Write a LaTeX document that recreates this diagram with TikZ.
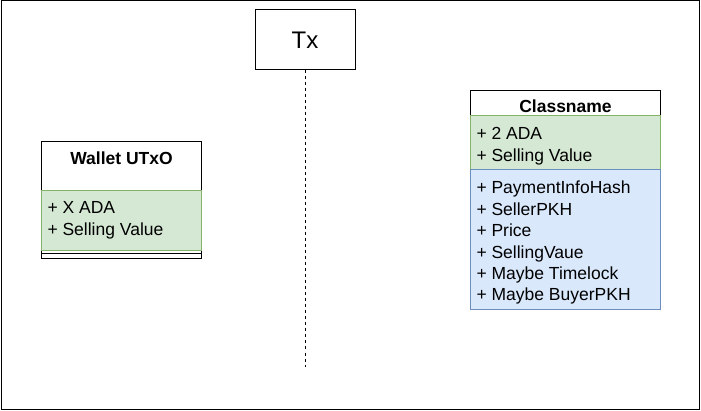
\documentclass[tikz,border=0pt]{standalone}
\usepackage{fontspec}
\setmainfont{Liberation Sans}
\definecolor{greenfill}{HTML}{D5E8D4}
\definecolor{greenline}{HTML}{82B366}
\definecolor{bluefill}{HTML}{DAE8FC}
\definecolor{blueline}{HTML}{6C8EBF}
\tikzset{
  item/.style={anchor=base west, inner sep=0pt},
  title/.style={anchor=base, inner sep=0pt, font=\fontsize{17.5}{21}\selectfont\bfseries},
}
\begin{document}
\begin{tikzpicture}[x=1pt, y=-1pt, font=\fontsize{17.5}{21}\selectfont, line width=1pt]

\useasboundingbox (0,0) rectangle (701,411);
\draw (1,1) rectangle (699.5,409.5);

% Tx lifeline
\node[draw, minimum width=100pt, minimum height=60pt, font=\fontsize{24}{28}\selectfont] (tx) at (305,40) {Tx};
\coordinate (txend) at (305,367);
\draw[dashed, line width=0.8pt] (tx.south) -- (txend);

% Wallet UTxO
\draw[fill=white] (41.5,141.5) rectangle (201.5,191);
\draw[fill=greenfill, draw=greenline] (41.5,191) rectangle (201.5,251);
\draw (41.5,251) -- (41.5,258.5) -- (201.5,258.5) -- (201.5,251);
\draw (41.5,253.5) -- (201.5,253.5);
\node[title] (wallet) at (121.5,165) {Wallet UTxO};
\node[item] (wada) at (47,214) {+ X ADA};
\node[item] (wsell) at (47,236) {+ Selling Value};

% Classname
\draw[fill=white] (470.5,90.5) rectangle (660.5,116);
\draw[fill=greenfill, draw=greenline] (470.5,116) rectangle (660.5,170);
\draw[fill=bluefill, draw=blueline] (470.5,170) rectangle (660.5,310);
\node[title] (cls) at (565.5,113) {Classname};
\node[item] (cada) at (476,140) {+ 2 ADA};
\node[item] (csell) at (476,162) {+ Selling Value};
\foreach \t [count=\i from 0] in {PaymentInfoHash, SellerPKH, Price, SellingVaue, Maybe Timelock, Maybe BuyerPKH}{
\node[item] (d\i) at (476,194+21.4*\i) {+ \t};
}

\end{tikzpicture}
\end{document}
